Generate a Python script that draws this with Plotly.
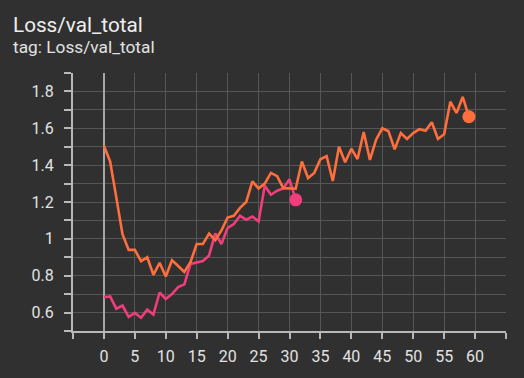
import plotly.graph_objects as go

title_text = "Loss/val_total"
subtitle_text = "tag: Loss/val_total"

steps_a = list(range(60))
vals_a = [1.505, 1.42, 1.225, 1.025, 0.94, 0.94, 0.879, 0.90, 0.805, 0.87,
          0.796, 0.884, 0.853, 0.82, 0.875, 0.972, 0.972, 1.028, 0.993, 1.046,
          1.116, 1.125, 1.168, 1.20, 1.312, 1.274, 1.30, 1.358, 1.34, 1.275,
          1.274, 1.272, 1.42, 1.33, 1.358, 1.432, 1.449, 1.314, 1.50, 1.416,
          1.489, 1.433, 1.58, 1.428, 1.538, 1.60, 1.584, 1.486, 1.574, 1.542,
          1.574, 1.595, 1.586, 1.633, 1.542, 1.568, 1.744, 1.683, 1.77, 1.663]

steps_b = list(range(32))
vals_b = [0.683, 0.688, 0.621, 0.638, 0.577, 0.598, 0.572, 0.616, 0.589, 0.709,
          0.674, 0.70, 0.738, 0.753, 0.864, 0.872, 0.88, 0.91, 1.03, 0.972,
          1.06, 1.08, 1.125, 1.104, 1.121, 1.095, 1.288, 1.239, 1.261, 1.274,
          1.323, 1.212]

x_tick_vals = list(range(0, 61, 5))
x_tick_text = [str(v) for v in x_tick_vals]
y_tick_vals = [0.6, 0.8, 1.0, 1.2, 1.4, 1.6, 1.8]
y_tick_text = ["0.6", "0.8", "1", "1.2", "1.4", "1.6", "1.8"]

ORANGE = "#ff6e3d"
PINK = "#f23d7c"
BG = "#303030"
GRID = "#565656"
AXIS = "#b8b8b8"
TXT = "#e2e2e2"
FONT = "Roboto"

fig = go.Figure()
fig.add_trace(go.Scatter(x=steps_b, y=vals_b, mode="lines",
                         line=dict(color=PINK, width=2.6), showlegend=False))
fig.add_trace(go.Scatter(x=steps_a, y=vals_a, mode="lines",
                         line=dict(color=ORANGE, width=2.6), showlegend=False))
fig.add_trace(go.Scatter(x=[steps_b[-1]], y=[vals_b[-1]], mode="markers",
                         marker=dict(color=PINK, size=13), showlegend=False))
fig.add_trace(go.Scatter(x=[steps_a[-1]], y=[vals_a[-1]], mode="markers",
                         marker=dict(color=ORANGE, size=13), showlegend=False))

fig.update_layout(
    width=524, height=378,
    margin=dict(l=73, r=18, t=73, b=39),
    paper_bgcolor=BG, plot_bgcolor=BG,
    font=dict(family=FONT, color=TXT, size=16),
    xaxis=dict(
        range=[-5, 65],
        tickmode="array", tickvals=x_tick_vals, ticktext=x_tick_text,
        ticks="outside", ticklen=6, tickwidth=1.5, tickcolor=AXIS,
        showgrid=True, gridcolor=GRID, gridwidth=1,
        minor=dict(tickmode="array", tickvals=[-5, 65], ticks="outside",
                   ticklen=6, tickwidth=1.5, tickcolor=AXIS,
                   showgrid=True, gridcolor=GRID, gridwidth=1),
        showline=True, linecolor=AXIS, linewidth=2,
        zeroline=True, zerolinecolor="#a6a6a6", zerolinewidth=2,
        tickfont=dict(family=FONT, size=16, color=TXT),
        ticklabelstandoff=4,
    ),
    yaxis=dict(
        range=[0.5, 1.9],
        tickmode="array", tickvals=y_tick_vals, ticktext=y_tick_text,
        ticks="outside", ticklen=7, tickwidth=1.5, tickcolor=AXIS,
        showgrid=True, gridcolor=GRID, gridwidth=1,
        minor=dict(dtick=0.1, tick0=0.5, ticks="outside", ticklen=7,
                   tickwidth=1.5, tickcolor=AXIS,
                   showgrid=True, gridcolor=GRID, gridwidth=1),
        showline=True, linecolor=AXIS, linewidth=2,
        zeroline=False,
        tickfont=dict(family=FONT, size=16, color=TXT),
        ticklabelstandoff=7,
    ),
    annotations=[
        dict(text=title_text, xref="paper", yref="paper",
             x=(11 - 73) / 433, y=(339 - 24) / 266, xanchor="left", yanchor="middle",
             showarrow=False, font=dict(family=FONT, size=20.7, color="#eeeeee")),
        dict(text=subtitle_text, xref="paper", yref="paper",
             x=(11 - 73) / 433, y=(339 - 46) / 266, xanchor="left", yanchor="middle",
             showarrow=False, font=dict(family=FONT, size=17.3, color="#e2e2e2")),
    ],
)

fig.write_html(
    "out.html",
    config={"displayModeBar": False},
    post_script="document.body.style.margin='0';document.body.style.padding='0';"
                "document.body.style.background='#303030';"
                "document.documentElement.style.background='#303030';"
                "document.body.style.overflow='hidden';",
)
